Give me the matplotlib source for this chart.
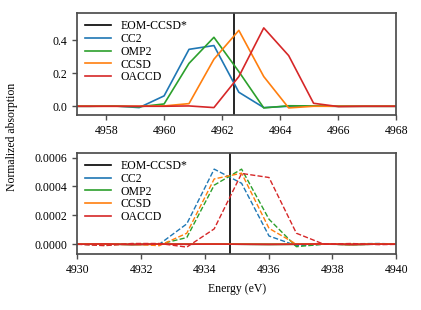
import matplotlib
matplotlib.use('Agg')
import matplotlib.pyplot as plt
import numpy as np

plt.rcParams['font.family'] = ['Liberation Serif', 'DejaVu Serif']
plt.rcParams['font.size'] = 8.5
plt.rcParams['mathtext.fontset'] = 'stix'

methods = ['CC2', 'OMP2', 'CCSD', 'OACCD']
colors = ['#1f77b4', '#2ca02c', '#ff7f0e', '#d62728']

# upper panel (solid spectra)
e_top = [4956.55, 4957.41, 4958.27, 4959.13, 4959.99, 4960.85, 4961.71, 4962.57,
         4963.43, 4964.29, 4965.15, 4966.01, 4966.87, 4967.73, 4968.59]
cc2_top = [0.0, 0.0, 0.002, -0.008, 0.063, 0.345, 0.368, 0.085, -0.008, 0.0, 0.001, 0.0, 0.0, 0.0, 0.0]
omp2_top = [0.0, 0.0, 0.001, -0.003, 0.014, 0.26, 0.418, 0.21, -0.01, 0.003, 0.002, 0.0, 0.0, 0.0, 0.0]
ccsd_top = [0.0, 0.0, 0.0, 0.0, 0.002, 0.016, 0.285, 0.46, 0.18, -0.01, 0.0, 0.0, 0.0, 0.0, 0.0]
oaccd_top = [0.0, 0.0, 0.0, 0.0, 0.0, 0.002, -0.008, 0.18, 0.475, 0.307, 0.018, -0.002, 0.0, 0.0, 0.0]
eom_top = 4962.41

# lower panel (dashed spectra)
e_bot = [4929.99, 4930.85, 4931.71, 4932.57, 4933.43, 4934.29, 4935.15, 4936.01,
         4936.87, 4937.73, 4938.59, 4939.45, 4940.31]
cc2_bot = [0.0, -0.000005, 0.000003, 0.0, 0.000141, 0.00052, 0.000422, 0.000057, -0.00001, 0.0, 0.000003, 0.000005, 0.0]
omp2_bot = [0.0, -0.000004, 0.000002, 0.0, 0.000046, 0.000409, 0.00052, 0.000173, -0.000017, 0.0, -0.000003, 0.0, 0.0]
ccsd_bot = [0.0, -0.000005, 0.0, -0.00001, 0.000076, 0.000452, 0.000492, 0.00011, 0.0, 0.0, 0.0, 0.0, 0.0]
oaccd_bot = [0.0, -0.00001, 0.000005, 0.000005, -0.00002, 0.000106, 0.00049, 0.000462, 0.000076, 0.0, 0.000005, -0.000003, 0.0]
eom_bot = 4934.78

# near-zero solid traces in the lower panel
flat_bot = [0.0, 0.000002, -0.000002, 0.000001, 0.0, 0.000001, 0.0, -0.000001, 0.0, 0.000002, -0.000002, 0.000001, 0.0]

fig = plt.figure(figsize=(4.21, 3.1), dpi=100)
ax1 = fig.add_axes([0.184, 0.629, 0.757, 0.330])
ax2 = fig.add_axes([0.184, 0.181, 0.757, 0.327])

top_data = [cc2_top, omp2_top, ccsd_top, oaccd_top]
bot_data = [cc2_bot, omp2_bot, ccsd_bot, oaccd_bot]

ax1.axvline(eom_top, color='black', lw=1.2, label='EOM-CCSD*')
for name, c, y in zip(methods, colors, top_data):
    ax1.plot(e_top, y, color=c, lw=1.2, label=name)

ax2.axvline(eom_bot, color='black', lw=1.2, label='EOM-CCSD*')
for name, c, y in zip(methods, colors, bot_data):
    ax2.plot(e_bot, flat_bot, color=c, lw=1.2, label=name)
    ax2.plot(e_bot, y, color=c, lw=1.0, ls='--')

ax1.set_xlim(4957, 4968)
ax1.set_ylim(-0.053, 0.567)
ax1.set_xticks([4958, 4960, 4962, 4964, 4966, 4968])
ax1.set_yticks([0.0, 0.2, 0.4])

ax2.set_xlim(4930, 4940)
ax2.set_ylim(-0.000067, 0.000635)
ax2.set_xticks([4930, 4932, 4934, 4936, 4938, 4940])
ax2.set_yticks([0.0, 0.0002, 0.0004, 0.0006])
ax2.set_yticklabels(['0.0000', '0.0002', '0.0004', '0.0006'])

for ax in (ax1, ax2):
    for s in ax.spines.values():
        s.set_color('#4d4d4d')
        s.set_linewidth(1.25)
    ax.tick_params(color='#4d4d4d', width=1.0, length=3.5, labelsize=8.5)
    ax.legend(loc='upper left', frameon=False, fontsize=8.5, handlelength=2.2,
              labelspacing=0.06, borderaxespad=0.25)

fig.text(0.562, 0.068, 'Energy (eV)', ha='center', va='center', fontsize=8.5)
fig.text(0.029, 0.557, 'Normalized absorption', ha='center', va='center',
         rotation=90, fontsize=8.5)

fig.savefig('out.png', dpi=100)
